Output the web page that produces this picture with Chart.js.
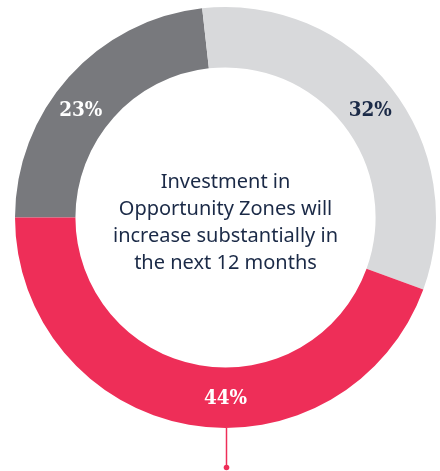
<!DOCTYPE html>
<html><head><meta charset="utf-8">
<script src="https://cdn.jsdelivr.net/npm/chart.js@4.4.0/dist/chart.umd.min.js"></script>
<style>html,body{margin:0;padding:0;background:#fff;}#wrap{width:440px;height:471px;}</style>
</head><body><div id="wrap"><canvas id="c"></canvas></div>
<script>
const categories = ["Disagree", "Neutral", "Agree"];
const values = [23, 32, 44];
const labels = ["23%", "32%", "44%"];
const colors = ["#78797d", "#d8d9db", "#ee2e58"];
const labelColors = ["#ffffff", "#1b2a47", "#ffffff"];
const labelAngleOffset = [-5.2, 1.6, -10];
const centerLines = ["Investment in", "Opportunity Zones will", "increase substantially in", "the next 12 months"];

const sliceLabels = {
  id: 'sliceLabels',
  afterDatasetsDraw(chart) {
    const ctx = chart.ctx;
    const meta = chart.getDatasetMeta(0);
    ctx.save();
    ctx.font = 'bold 20.5px "DejaVu Serif Condensed", "DejaVu Serif"';
    ctx.textAlign = 'center';
    ctx.textBaseline = 'middle';
    meta.data.forEach((arc, i) => {
      const p = arc.getProps(['x','y','startAngle','endAngle','innerRadius','outerRadius'], true);
      const a = (p.startAngle + p.endAngle) / 2 + labelAngleOffset[i] * Math.PI / 180;
      const r = (p.innerRadius + p.outerRadius) / 2;
      ctx.fillStyle = labelColors[i];
      ctx.fillText(labels[i], p.x + r * Math.cos(a), p.y + r * Math.sin(a) + 1);
    });
    // center text
    const p0 = meta.data[0].getProps(['x','y','outerRadius'], true);
    ctx.font = '20px "Noto Sans"';
    ctx.fillStyle = '#1b2a47';
    const lh = 27;
    const start = p0.y + 5 - lh * (centerLines.length - 1) / 2;
    centerLines.forEach((t, i) => ctx.fillText(t, p0.x, start + i * lh));
    // leader line with dot
    const bx = p0.x + 1, by = p0.y + p0.outerRadius;
    ctx.strokeStyle = '#ee2e58';
    ctx.lineWidth = 1.5;
    ctx.beginPath();
    ctx.moveTo(bx, by);
    ctx.lineTo(bx, by + 38);
    ctx.stroke();
    ctx.fillStyle = '#ee2e58';
    ctx.beginPath();
    ctx.arc(bx, by + 39.5, 2.8, 0, Math.PI * 2);
    ctx.fill();
    ctx.restore();
  }
};

new Chart(document.getElementById('c'), {
  type: 'doughnut',
  data: {
    labels: categories,
    datasets: [{ data: values, backgroundColor: colors, borderWidth: 0, hoverOffset: 0 }]
  },
  options: {
    responsive: true,
    maintainAspectRatio: false,
    animation: false,
    rotation: -90,
    cutout: '71.3%',
    layout: { padding: { left: 15, right: 4, top: 7, bottom: 43 } },
    plugins: { legend: { display: false }, tooltip: { enabled: false } }
  },
  plugins: [sliceLabels]
});
</script>
</body></html>
